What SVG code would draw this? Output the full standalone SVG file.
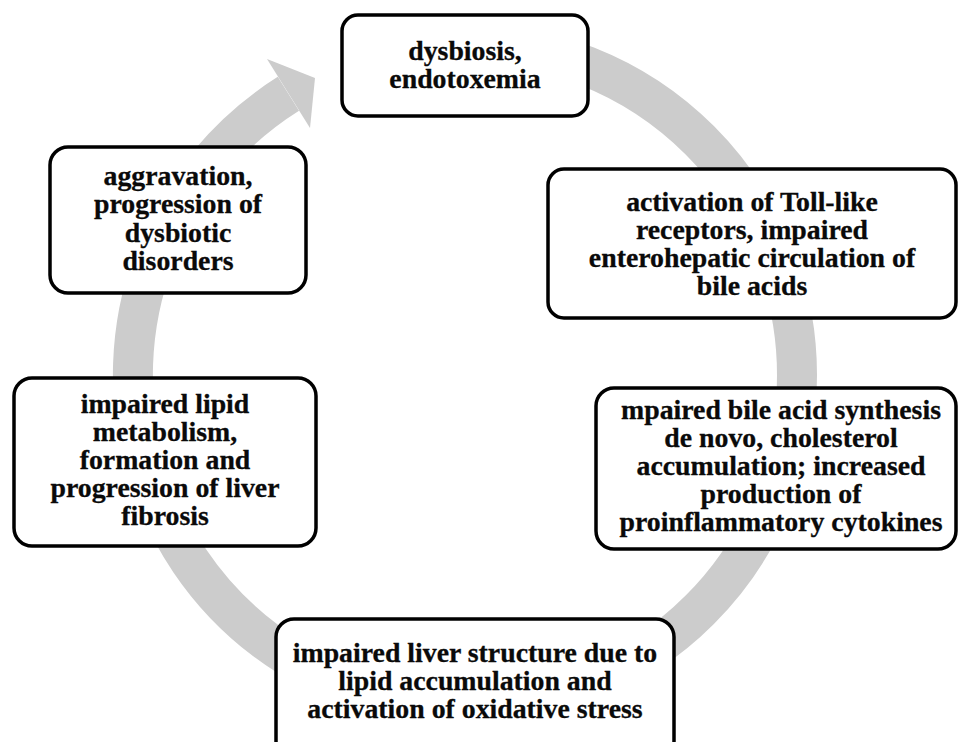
<svg xmlns="http://www.w3.org/2000/svg" width="960" height="742" viewBox="0 0 960 742">
<style>
.box{fill:#fff;stroke:#000;stroke-width:3.5}
.t{font-family:"Liberation Serif","Times New Roman",serif;font-weight:bold;font-size:27.8px;fill:#0a0a0a;stroke:#0a0a0a;stroke-width:0.3;text-anchor:middle}
.ring{fill:none;stroke:#cccccc;stroke-width:40;stroke-linecap:butt}
</style>
<rect width="960" height="742" fill="#fff"/>
<g id="connectors">
<path class="ring" d="M465,43 A332,332 0 0 1 465,707 A332,332 0 0 1 288.4,93.8"/>
<polygon points="267,59 315,78 310,128" fill="#cccccc"/>
</g>
<g id="node-dysbiosis">
<rect class="box" x="342" y="15" width="246" height="101" rx="16"/>
<text class="t" x="465" y="60">dysbiosis,</text>
<text class="t" x="465" y="88">endotoxemia</text>
</g>
<g id="node-toll">
<rect class="box" x="548" y="169" width="408" height="149" rx="16"/>
<text class="t" x="752" y="211">activation of Toll-like</text>
<text class="t" x="752" y="239">receptors, impaired</text>
<text class="t" x="752" y="267">enterohepatic circulation of</text>
<text class="t" x="752" y="295">bile acids</text>
</g>
<g id="node-bile">
<rect class="box" x="596" y="388" width="360" height="161" rx="18"/>
<text class="t" x="781" y="419">mpaired bile acid synthesis</text>
<text class="t" x="781" y="447">de novo, cholesterol</text>
<text class="t" x="781" y="475">accumulation; increased</text>
<text class="t" x="781" y="503">production of</text>
<text class="t" x="781" y="531">proinflammatory cytokines</text>
</g>
<g id="node-liver">
<rect class="box" x="276" y="619" width="398" height="140" rx="18"/>
<text class="t" x="475" y="662">impaired liver structure due to</text>
<text class="t" x="475" y="690">lipid accumulation and</text>
<text class="t" x="475" y="718">activation of oxidative stress</text>
</g>
<g id="node-lipid">
<rect class="box" x="14" y="378" width="302" height="168" rx="18"/>
<text class="t" x="165" y="413">impaired lipid</text>
<text class="t" x="165" y="441">metabolism,</text>
<text class="t" x="165" y="469">formation and</text>
<text class="t" x="165" y="497">progression of liver</text>
<text class="t" x="165" y="525">fibrosis</text>
</g>
<g id="node-aggravation">
<rect class="box" x="50" y="147" width="256" height="146" rx="18"/>
<text class="t" x="178" y="185">aggravation,</text>
<text class="t" x="178" y="213">progression of</text>
<text class="t" x="178" y="242">dysbiotic</text>
<text class="t" x="178" y="270">disorders</text>
</g>
</svg>
